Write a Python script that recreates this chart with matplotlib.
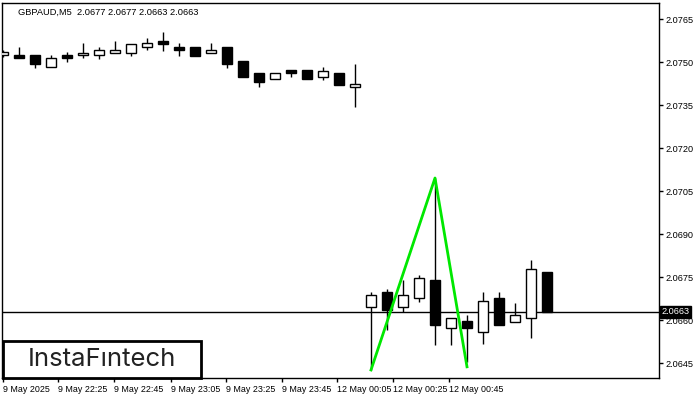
import matplotlib
matplotlib.use("Agg")
import matplotlib.pyplot as plt
import matplotlib.transforms as mtransforms
from matplotlib.patches import Rectangle


# Chart data (M5 bars, oldest first)
symbol_title = "GBPAUD,M5  2.0677 2.0677 2.0663 2.0663"
opens = [2.07525, 2.07525, 2.07525, 2.07484, 2.07525, 2.07525, 2.07525, 2.07533, 2.07530,
         2.07554, 2.07574, 2.07554, 2.07554, 2.07530, 2.07554, 2.07504, 2.07463, 2.07440,
         2.07472, 2.07472, 2.07449, 2.07463, 2.07412,
         2.06648, 2.06699, 2.06648, 2.06677, 2.06741, 2.06575, 2.06598, 2.06558, 2.06677,
         2.06595, 2.06607, 2.06770]
highs = [2.07542, 2.07551, 2.07525, 2.07525, 2.07534, 2.07565, 2.07554, 2.07574, 2.07564,
         2.07585, 2.07605, 2.07565, 2.07554, 2.07565, 2.07554, 2.07504, 2.07463, 2.07461,
         2.07472, 2.07472, 2.07484, 2.07463, 2.07493,
         2.06699, 2.06709, 2.06741, 2.06758, 2.07096, 2.06607, 2.06619, 2.06700, 2.06700,
         2.06662, 2.06810, 2.06770]
lows = [2.07518, 2.07513, 2.07480, 2.07484, 2.07501, 2.07513, 2.07510, 2.07533, 2.07522,
        2.07542, 2.07540, 2.07522, 2.07522, 2.07530, 2.07480, 2.07449, 2.07412, 2.07440,
        2.07449, 2.07440, 2.07437, 2.07421, 2.07342,
        2.06427, 2.06566, 2.06628, 2.06665, 2.06514, 2.06514, 2.06456, 2.06517, 2.06584,
        2.06595, 2.06538, 2.06630]
closes = [2.07534, 2.07513, 2.07492, 2.07513, 2.07513, 2.07533, 2.07542, 2.07542, 2.07564,
          2.07565, 2.07562, 2.07542, 2.07522, 2.07542, 2.07492, 2.07449, 2.07432, 2.07461,
          2.07461, 2.07440, 2.07470, 2.07421, 2.07424,
          2.06688, 2.06636, 2.06688, 2.06747, 2.06584, 2.06607, 2.06575, 2.06668, 2.06584,
          2.06619, 2.06779, 2.06630]
last_price = 2.0663

# double top pattern drawn over the bars
pattern_bars = [23, 27, 29]
pattern_prices = [2.06427, 2.07096, 2.06438]

price_ticks = [2.0645, 2.0660, 2.0675, 2.0690, 2.0705, 2.0720, 2.0735, 2.0750, 2.0765]
time_labels = ["9 May 2025", "9 May 22:25", "9 May 22:45", "9 May 23:05", "9 May 23:25",
               "9 May 23:45", "12 May 00:05", "12 May 00:25", "12 May 00:45"]
time_label_bars = [0, 3.44, 6.94, 10.5, 13.94, 17.44, 20.88, 24.38, 27.88]

FONT = "Liberation Sans"

fig = plt.figure(figsize=(7, 4), dpi=100)
ax = fig.add_axes([2 / 700, 22 / 400, 657 / 700, 375 / 400])

# candles
for i in range(len(opens)):
    o, h, l, c = opens[i], highs[i], lows[i], closes[i]
    ax.vlines(i, l, h, color="black", lw=1, zorder=2)
    face = "white" if c >= o else "black"
    ax.add_patch(Rectangle((i - 0.33, min(o, c)), 0.66, abs(c - o),
                           facecolor=face, edgecolor="black", lw=1, zorder=3))

# current price line
ax.axhline(last_price, color="black", lw=1, zorder=1)

# pattern
ax.plot(pattern_bars, pattern_prices, color="#00e800", lw=2, zorder=4)

ax.set_xlim(-0.0625, 41)
ax.set_ylim(2.06399, 2.07706)

for sp in ax.spines.values():
    sp.set_color("black")
    sp.set_linewidth(1)

ax.yaxis.tick_right()
ax.set_yticks(price_ticks)
ax.set_yticklabels([f"{p:.4f}" for p in price_ticks], fontsize=6.6, family=FONT)
ax.tick_params(axis="y", length=3, width=1, pad=2, colors="black")

ax.set_xticks(time_label_bars)
ax.set_xticklabels(time_labels, fontsize=6.4, family=FONT)
for lab in ax.get_xticklabels():
    lab.set_horizontalalignment("left")
ax.tick_params(axis="x", length=3, width=1, pad=2, colors="black")

# price marker on the right scale
trans = mtransforms.blended_transform_factory(ax.transAxes, ax.transData)
ax.text(1.004, last_price, f"{last_price:.4f}", transform=trans, fontsize=6.6, family=FONT,
        color="white", va="center", ha="left", zorder=5, clip_on=False,
        bbox=dict(boxstyle="square,pad=0.15", facecolor="black", edgecolor="black"))

# title
fig.text(18 / 700, 1 - 12 / 400, symbol_title, fontsize=6.7, family=FONT,
         va="center", ha="left", color="black")

# logo
fig.patches.append(Rectangle((3 / 700, 22 / 400), 198 / 700, 37 / 400, transform=fig.transFigure,
                             facecolor="white", edgecolor="black", lw=2, zorder=10))
fig.text(102 / 700, (400 - 360) / 400, "InstaF\u0131ntech", fontsize=18.5, family="Inter",
         color="#222222", ha="center", va="center", zorder=11)

fig.savefig("out.png", dpi=100)
